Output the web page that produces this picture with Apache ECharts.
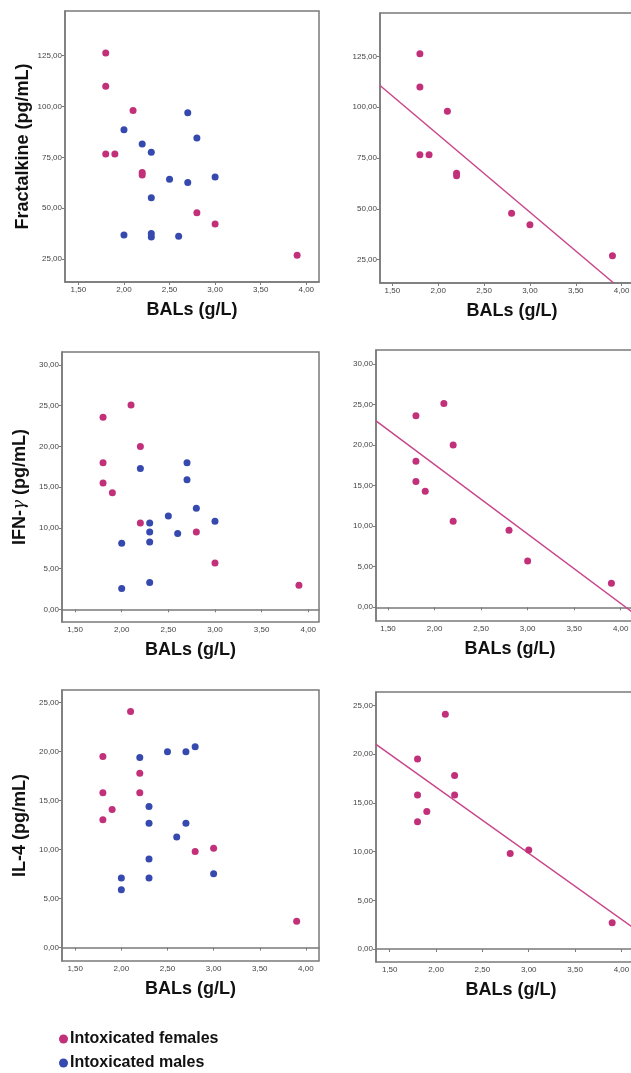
<!DOCTYPE html>
<html>
<head>
<meta charset="utf-8">
<script src="https://cdn.jsdelivr.net/npm/echarts@6/dist/echarts.min.js"></script>
<style>
  html, body { margin: 0; padding: 0; background: #fff; }
  #chart { width: 631px; height: 1073px; }
</style>
</head>
<body>
<div id="chart"></div>
<script>
// BAL values (g/L) for each group, same order as the cytokine arrays
var femaleBal = [1.8, 1.8, 1.8, 1.9, 2.1, 2.2, 2.2, 2.8, 3.0, 3.9];
var maleBal = [2.0, 2.0, 2.2, 2.3, 2.3, 2.3, 2.3, 2.5, 2.6, 2.7, 2.7, 2.8, 3.0];

var femaleFractalkine = [126.3, 110, 76.6, 76.6, 98, 67.5, 66.3, 47.8, 42.2, 26.9];
var maleFractalkine = [88.6, 36.8, 81.6, 77.5, 55.2, 37.6, 35.8, 64.2, 36.2, 97.0, 62.7, 84.5, 65.3];

var femaleIfn = [23.6, 18.0, 15.5, 14.3, 25.1, 20.0, 10.6, 9.5, 5.7, 2.95];
var maleIfn = [8.1, 2.55, 17.3, 10.6, 9.5, 8.25, 3.3, 11.45, 9.3, 18.0, 15.9, 12.4, 10.8];

var femaleIl4 = [19.5, 15.8, 13.05, 14.1, 24.1, 17.8, 15.8, 9.8, 10.15, 2.7];
var maleIl4 = [7.1, 5.9, 19.4, 14.4, 12.7, 9.04, 7.1, 20.0, 11.3, 20.0, 12.7, 20.5, 7.53];

// fit lines for females (end points)
var fractalkineFit = [[1.365, 110.7], [3.913, 13.5]];
var ifnFit = [[1.371, 22.97], [4.25, -1.67]];
var il4Fit = [[1.352, 21.0], [4.265, 1.25]];

var balTicks = [1.5, 2.0, 2.5, 3.0, 3.5, 4.0];
var fractalkineTicks = [25, 50, 75, 100, 125];
var ifnTicks = [0, 5, 10, 15, 20, 25, 30];
var il4Ticks = [0, 5, 10, 15, 20, 25];

var pink = '#C2307A';
var blue = '#3549AE';
var axisGray = '#7a7a7a';

var pairs = function(xs, ys) {
  var out = [];
  for (var i = 0; i < xs.length; i++) out.push([xs[i], ys[i]]);
  return out;
};

var fmt = function(v) { return v.toFixed(2).replace('.', ','); };

var grids = [
  { left: 65, top: 11, width: 254, height: 271 },
  { left: 380, top: 13, width: 264, height: 270 },
  { left: 62, top: 352, width: 257, height: 270 },
  { left: 376, top: 350, width: 268, height: 271 },
  { left: 62, top: 690, width: 257, height: 271 },
  { left: 376, top: 692, width: 270, height: 270 }
];
grids.forEach(function(g) {
  g.show = true;
  g.borderColor = axisGray;
  g.borderWidth = 1.5;
  g.backgroundColor = '#fff';
  g.outerBoundsMode = 'none';
  g.containLabel = false;
});

var xRanges = [[1.353, 4.14], [1.365, 4.244], [1.36, 4.115], [1.371, 4.25], [1.357, 4.142], [1.352, 4.265]];
var yRanges = [[13.7, 147], [13.5, 146.4], [-1.56, 31.6], [-1.69, 31.7], [-1.37, 26.3], [-1.33, 26.37]];
var yTicks = [fractalkineTicks, fractalkineTicks, ifnTicks, ifnTicks, il4Ticks, il4Ticks];
var yNames = ['Fractalkine (pg/mL)', '', 'IFN-{g|γ} (pg/mL)', '', 'IL-4 (pg/mL)', ''];

var makeX = function(i) {
  return {
    type: 'value', gridIndex: i,
    min: xRanges[i][0], max: xRanges[i][1],
    name: 'BALs (g/L)', nameLocation: 'middle', nameGap: 19,
    nameTextStyle: { fontFamily: 'Liberation Sans', fontWeight: 'bold', fontSize: 18, color: '#111', verticalAlign: 'top' },
    axisLine: { show: true, lineStyle: { color: axisGray, width: 1.5 } },
    axisTick: { show: true, length: 3, customValues: balTicks, lineStyle: { color: axisGray } },
    axisLabel: { customValues: balTicks, formatter: fmt, fontSize: 8, color: '#444', margin: 4, fontFamily: 'Liberation Sans' },
    splitLine: { show: false }
  };
};

var makeY = function(i) {
  return {
    type: 'value', gridIndex: i,
    min: yRanges[i][0], max: yRanges[i][1],
    name: yNames[i], nameLocation: 'middle', nameGap: 33,
    nameTextStyle: {
      fontFamily: 'Liberation Sans', fontWeight: 'bold', fontSize: 18, color: '#111',
      rich: { g: { fontFamily: 'DejaVu Serif', fontStyle: 'italic', fontWeight: 'normal', fontSize: 17, color: '#111' } }
    },
    axisLine: { show: true, lineStyle: { color: axisGray, width: 1.5 } },
    axisTick: { show: true, length: 3, customValues: yTicks[i], lineStyle: { color: axisGray } },
    axisLabel: { customValues: yTicks[i], formatter: fmt, fontSize: 8, color: '#444', margin: 3, fontFamily: 'Liberation Sans' },
    splitLine: { show: false }
  };
};

var scatter = function(name, color, idx, data) {
  return {
    name: name, type: 'scatter', xAxisIndex: idx, yAxisIndex: idx,
    symbol: 'circle', symbolSize: 7, itemStyle: { color: color, opacity: 1 },
    data: data, z: 3
  };
};

var fitLine = function(idx, data) {
  return {
    type: 'line', xAxisIndex: idx, yAxisIndex: idx,
    data: data, symbol: 'none', silent: true,
    lineStyle: { color: '#C8468A', width: 1.5 }, z: 2
  };
};

var females = 'Intoxicated females';
var males = 'Intoxicated males';

var legendItem = function(name, top) {
  return {
    left: 54, top: top,
    itemWidth: 9, itemHeight: 9, icon: 'circle',
    textStyle: { fontFamily: 'Liberation Sans', fontWeight: 'bold', fontSize: 16, color: '#111', padding: [0, 0, 0, -3] },
    data: [name]
  };
};

var option = {
  backgroundColor: '#fff',
  animation: false,
  grid: grids,
  xAxis: [0, 1, 2, 3, 4, 5].map(makeX),
  yAxis: [0, 1, 2, 3, 4, 5].map(makeY),
  legend: [legendItem(females, 1026), legendItem(males, 1050)],
  series: [
    scatter(females, pink, 0, pairs(femaleBal, femaleFractalkine)),
    scatter(males, blue, 0, pairs(maleBal, maleFractalkine)),
    scatter(females, pink, 1, pairs(femaleBal, femaleFractalkine)),
    fitLine(1, fractalkineFit),
    scatter(females, pink, 2, pairs(femaleBal, femaleIfn)),
    scatter(males, blue, 2, pairs(maleBal, maleIfn)),
    scatter(females, pink, 3, pairs(femaleBal, femaleIfn)),
    fitLine(3, ifnFit),
    scatter(females, pink, 4, pairs(femaleBal, femaleIl4)),
    scatter(males, blue, 4, pairs(maleBal, maleIl4)),
    scatter(females, pink, 5, pairs(femaleBal, femaleIl4)),
    fitLine(5, il4Fit)
  ]
};

var chart = echarts.init(document.getElementById('chart'), null, { renderer: 'canvas' });
chart.setOption(option);
</script>
</body>
</html>
